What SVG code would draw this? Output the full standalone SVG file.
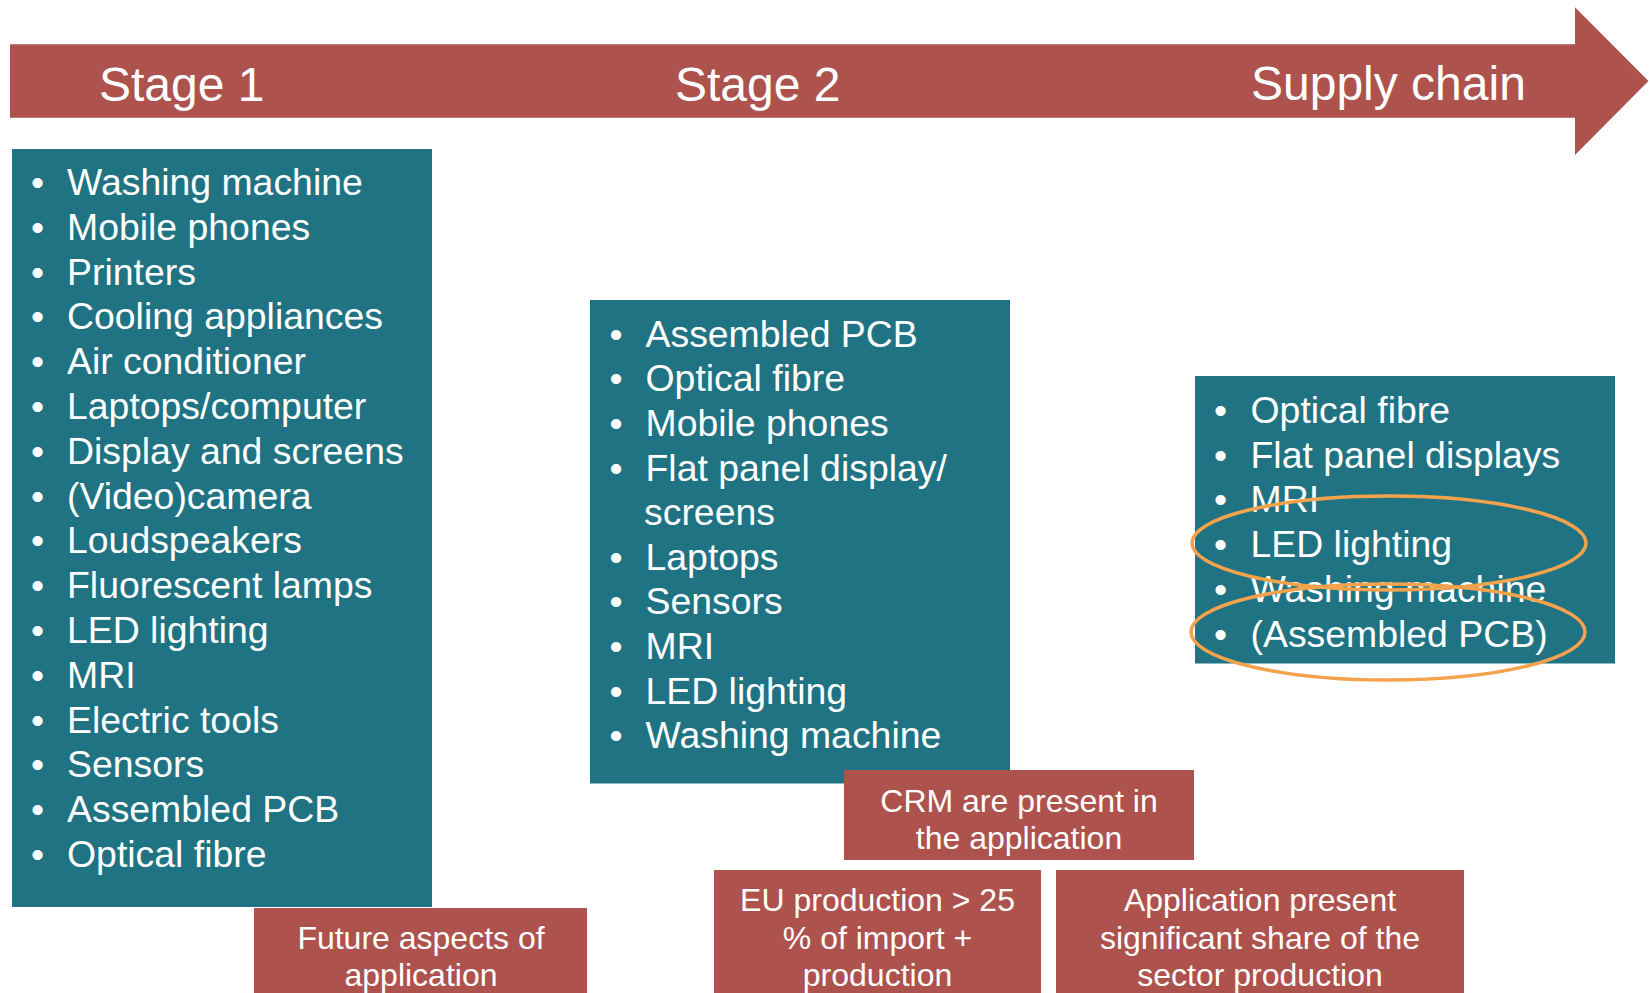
<svg xmlns="http://www.w3.org/2000/svg" width="1650" height="993" viewBox="0 0 1650 993">
<style>
text{font-family:"Liberation Sans",Arial,sans-serif;fill:#fff}
.red{fill:#AD524D}
.teal{fill:#1F7382}
.title{font-size:48px}
.li{font-size:37.4px}
.lbl{font-size:32px;text-anchor:middle}
.ring{fill:none;stroke:#F5A24C;stroke-width:3.5}
</style>
<rect width="1650" height="993" fill="#fff"/>
<g id="arrow">
<polygon class="red" points="10,44.3 1575,44.3 1575,7.3 1648.5,81 1575,155 1575,117.7 10,117.7"/>
<text class="title" x="99" y="101">Stage 1</text>
<text class="title" x="675" y="101">Stage 2</text>
<text class="title" x="1251" y="100">Supply chain</text>
</g>
<g id="stage1-list">
<rect class="teal" x="12" y="149" width="420" height="758"/>
<text class="li" x="31" y="195">•</text><text class="li" x="67" y="195">Washing machine</text>
<text class="li" x="31" y="239.8">•</text><text class="li" x="67" y="239.8">Mobile phones</text>
<text class="li" x="31" y="284.6">•</text><text class="li" x="67" y="284.6">Printers</text>
<text class="li" x="31" y="329.4">•</text><text class="li" x="67" y="329.4">Cooling appliances</text>
<text class="li" x="31" y="374.2">•</text><text class="li" x="67" y="374.2">Air conditioner</text>
<text class="li" x="31" y="419">•</text><text class="li" x="67" y="419">Laptops/computer</text>
<text class="li" x="31" y="463.8">•</text><text class="li" x="67" y="463.8">Display and screens</text>
<text class="li" x="31" y="508.6">•</text><text class="li" x="67" y="508.6">(Video)camera</text>
<text class="li" x="31" y="553.4">•</text><text class="li" x="67" y="553.4">Loudspeakers</text>
<text class="li" x="31" y="598.2">•</text><text class="li" x="67" y="598.2">Fluorescent lamps</text>
<text class="li" x="31" y="643">•</text><text class="li" x="67" y="643">LED lighting</text>
<text class="li" x="31" y="687.8">•</text><text class="li" x="67" y="687.8">MRI</text>
<text class="li" x="31" y="732.6">•</text><text class="li" x="67" y="732.6">Electric tools</text>
<text class="li" x="31" y="777.4">•</text><text class="li" x="67" y="777.4">Sensors</text>
<text class="li" x="31" y="822.2">•</text><text class="li" x="67" y="822.2">Assembled PCB</text>
<text class="li" x="31" y="867">•</text><text class="li" x="67" y="867">Optical fibre</text>
</g>
<g id="stage2-list">
<rect class="teal" x="590" y="300" width="420" height="483.5"/>
<text class="li" x="609.5" y="346.7">•</text><text class="li" x="645.5" y="346.7">Assembled PCB</text>
<text class="li" x="609.5" y="391.3">•</text><text class="li" x="645.5" y="391.3">Optical fibre</text>
<text class="li" x="609.5" y="435.9">•</text><text class="li" x="645.5" y="435.9">Mobile phones</text>
<text class="li" x="609.5" y="480.5">•</text><text class="li" x="645.5" y="480.5">Flat panel display/</text>
<text class="li" x="644" y="525.1">screens</text>
<text class="li" x="609.5" y="569.7">•</text><text class="li" x="645.5" y="569.7">Laptops</text>
<text class="li" x="609.5" y="614.3">•</text><text class="li" x="645.5" y="614.3">Sensors</text>
<text class="li" x="609.5" y="658.9">•</text><text class="li" x="645.5" y="658.9">MRI</text>
<text class="li" x="609.5" y="703.5">•</text><text class="li" x="645.5" y="703.5">LED lighting</text>
<text class="li" x="609.5" y="748.1">•</text><text class="li" x="645.5" y="748.1">Washing machine</text>
</g>
<g id="supply-chain-list">
<rect class="teal" x="1195" y="376" width="420" height="287.5"/>
<text class="li" x="1214" y="422.7">•</text><text class="li" x="1250.5" y="422.7">Optical fibre</text>
<text class="li" x="1214" y="467.5">•</text><text class="li" x="1250.5" y="467.5">Flat panel displays</text>
<text class="li" x="1214" y="512.3">•</text><text class="li" x="1250.5" y="512.3">MRI</text>
<text class="li" x="1214" y="557.1">•</text><text class="li" x="1250.5" y="557.1">LED lighting</text>
<text class="li" x="1214" y="601.9">•</text><text class="li" x="1250.5" y="601.9">Washing machine</text>
<text class="li" x="1214" y="646.7">•</text><text class="li" x="1250.5" y="646.7">(Assembled PCB)</text>
</g>
<g id="highlight-led">
<ellipse class="ring" cx="1389" cy="543" rx="197" ry="47"/>
</g>
<g id="highlight-pcb">
<ellipse class="ring" cx="1388" cy="632" rx="197" ry="48"/>
</g>
<g id="future-aspects">
<rect class="red" x="254" y="908" width="333" height="90"/>
<text class="lbl" x="421" y="949">Future aspects of</text>
<text class="lbl" x="421" y="986">application</text>
</g>
<g id="crm-present">
<rect class="red" x="844" y="770" width="350" height="90"/>
<text class="lbl" x="1019" y="812">CRM are present in</text>
<text class="lbl" x="1019" y="849.3">the application</text>
</g>
<g id="eu-production">
<rect class="red" x="714" y="870" width="327" height="128"/>
<text class="lbl" x="877.5" y="911">EU production &gt; 25</text>
<text class="lbl" x="877.5" y="948.5">% of import +</text>
<text class="lbl" x="877.5" y="986">production</text>
</g>
<g id="sector-share">
<rect class="red" x="1056" y="870" width="408" height="128"/>
<text class="lbl" x="1260" y="911">Application present</text>
<text class="lbl" x="1260" y="948.5">significant share of the</text>
<text class="lbl" x="1260" y="986">sector production</text>
</g>
</svg>
